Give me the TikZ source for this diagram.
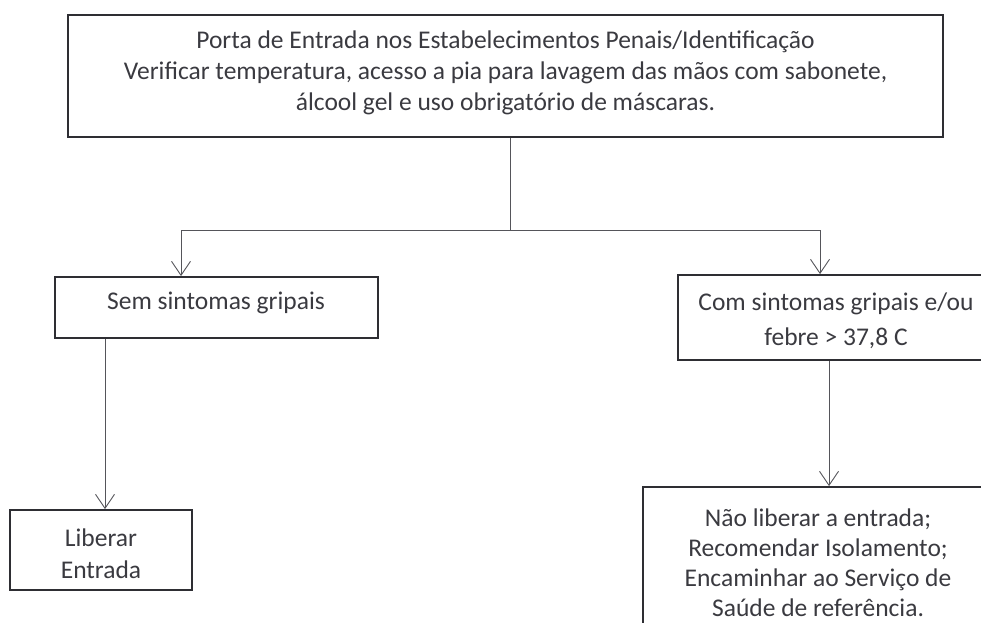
\documentclass[tikz,border=0pt]{standalone}
\usepackage{fontspec}
\setmainfont{Carlito}
\usetikzlibrary{arrows.meta,calc}
\definecolor{ink}{HTML}{3A3A40}
\definecolor{edge}{HTML}{2E2E33}
\definecolor{wire}{HTML}{55555A}
\begin{document}
\begin{tikzpicture}[x=1pt,y=-1pt,
  box/.style={draw=edge,line width=1.8pt,rectangle,inner sep=0pt},
  txt/.style={align=center,text=ink,inner sep=0pt,
    font=\fontsize{25.5}{31}\selectfont},
  wirestyle/.style={draw=wire,line width=0.9pt},
  arr/.style={wirestyle,-{Straight Barb[length=14pt,width=19pt,line width=0.9pt]}}]
\useasboundingbox (0,0) rectangle (981,622);
\node[box,minimum width=875pt,minimum height=122pt] (top) at (505.5,76) {};
\node[txt] (topt) at (505.5,73)
  {Porta de Entrada nos Estabelecimentos Penais/Identificação\\
   Verificar temperatura, acesso a pia para lavagem das mãos com sabonete,\\
   álcool gel e uso obrigatório de máscaras.};
\node[box,minimum width=323pt,minimum height=61pt] (sem) at (216.5,307.5) {};
\node[txt] (semt) at (216,303) {Sem sintomas gripais};
\node[box,minimum width=314pt,minimum height=85pt] (com) at (835,317.5) {};
\node[txt,font=\fontsize{25.5}{35}\selectfont] (comt) at (836,320.5)
  {Com sintomas gripais e/ou\\febre > 37,8 C};
\node[box,minimum width=182pt,minimum height=80pt] (lib) at (101,550) {};
\node[txt,font=\fontsize{25.5}{32}\selectfont] (libt) at (101,554) {Liberar\\Entrada};
\node[box,minimum width=350pt,minimum height=163pt] (nao) at (818,568.5) {};
\node[txt,font=\fontsize{25.5}{30}\selectfont] (naot) at (818,563)
  {Não liberar a entrada;\\Recomendar Isolamento;\\Encaminhar ao Serviço de\\Saúde de referência.};
\coordinate (j) at (510,230);
\coordinate (jl) at (181,230);
\coordinate (jr) at (820,230);
\coordinate (sl) at (105,0);
\coordinate (cr) at (829,0);
\draw[wirestyle] (top.south -| j) -- (j);
\draw[wirestyle] (jl) -- (jr);
\draw[arr] (jl) -- (jl |- sem.north);
\draw[arr] (jr) -- (jr |- com.north);
\draw[arr] (sem.south -| sl) -- (lib.north -| sl);
\draw[arr] (com.south -| cr) -- (nao.north -| cr);
\end{tikzpicture}
\end{document}
